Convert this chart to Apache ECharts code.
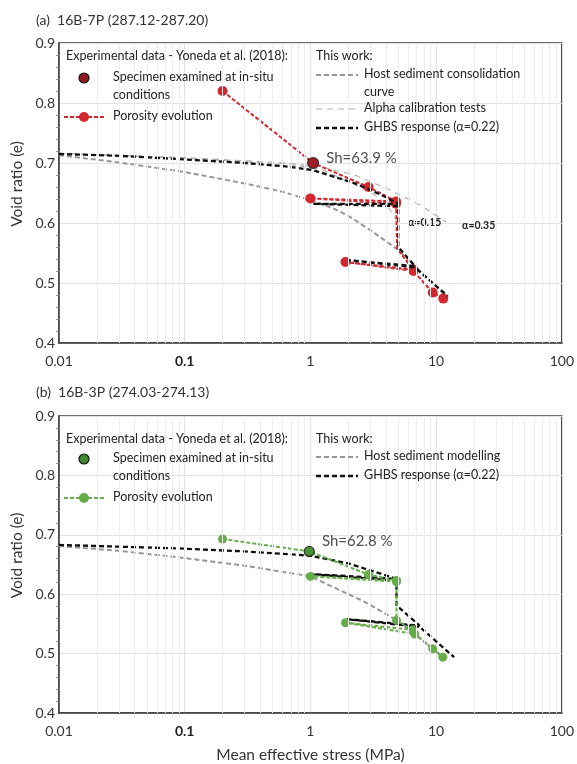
<!DOCTYPE html>
<html><head><meta charset="utf-8">
<script src="https://cdn.jsdelivr.net/npm/echarts@6/dist/echarts.min.js"></script>
<style>html,body{margin:0;padding:0;background:#fff}#c{width:577px;height:764px}</style>
</head><body><div id="c"></div>
<script>
// ---------- data ----------
const xTickLabels = ['0.01', '0.1', '1', '10', '100'];
const yTicks = [0.4, 0.5, 0.6, 0.7, 0.8, 0.9];
const minorX = [0.02,0.03,0.04,0.05,0.06,0.07,0.08,0.09,0.2,0.3,0.4,0.5,0.6,0.7,0.8,0.9,2,3,4,5,6,7,8,9,20,30,40,50,60,70,80,90];

// Panel (a) 16B-7P
const hostA_x = [0.01, 0.03, 0.1, 0.3, 0.6, 1, 1.5, 2, 3, 5, 7, 10, 12.5];
const hostA_e = [0.713, 0.701, 0.685, 0.666, 0.652, 0.638, 0.625, 0.612, 0.588, 0.555, 0.525, 0.495, 0.480];
const alpha015_x = [0.01, 0.1, 0.66, 1.2, 2.2, 3.2, 4.0, 4.8];
const alpha015_e = [0.716, 0.708, 0.698, 0.690, 0.665, 0.648, 0.632, 0.606];
const alpha035_x = [0.01, 0.1, 0.66, 1.2, 2.2, 4.0, 7.3, 12];
const alpha035_e = [0.716, 0.709, 0.700, 0.693, 0.681, 0.658, 0.631, 0.602];
const ghbsA_x = [0.01, 0.03, 0.1, 0.3, 0.66, 1.05, 2.2, 3, 4, 5, 1.05, 5, 5, 6.8, 2.0, 6.8, 12.3];
const ghbsA_e = [0.715, 0.712, 0.706, 0.700, 0.694, 0.688, 0.667, 0.655, 0.643, 0.632, 0.632, 0.628, 0.560, 0.528, 0.538, 0.526, 0.478];
const poroA_x = [0.2, 1.05, 2.9, 4.8, 1.0, 4.8, 4.9, 6.6, 1.9, 6.6, 9.4, 11.4];
const poroA_e = [0.820, 0.700, 0.660, 0.636, 0.641, 0.632, 0.557, 0.522, 0.535, 0.520, 0.484, 0.474];
const poroA_marker = [1, 1, 1, 1, 1, 1, 0, 1, 1, 1, 1, 1];
const specA = [1.05, 0.700];
const specA_label = 'Sh=63.9 %';

// Panel (b) 16B-3P
const hostB_x = [0.01, 0.03, 0.09, 0.3, 1.0, 2.65, 4.7, 6.75, 9.4, 11.3];
const hostB_e = [0.681, 0.673, 0.662, 0.648, 0.630, 0.588, 0.558, 0.533, 0.508, 0.494];
const ghbsB_x = [0.01, 0.03, 0.09, 0.3, 0.98, 2, 3, 4.84, 0.98, 4.84, 4.84, 7.4, 1.95, 7.4, 13.9];
const ghbsB_e = [0.683, 0.680, 0.677, 0.672, 0.665, 0.652, 0.640, 0.626, 0.634, 0.623, 0.581, 0.547, 0.558, 0.545, 0.494];
const poroB_x = [0.2, 0.98, 2.9, 4.84, 1.0, 4.84, 4.84, 6.5, 1.9, 6.75, 9.4, 11.3];
const poroB_e = [0.693, 0.672, 0.633, 0.623, 0.630, 0.621, 0.556, 0.540, 0.552, 0.533, 0.508, 0.494];
const specB = [0.98, 0.672];
const specB_label = 'Sh=62.8 %';

// ---------- helpers ----------
const FONT = 'Lato';
const zip = (xs, es) => xs.map((x, i) => [x, es[i]]);
const RED = '#d3262e', DRED = '#8e1b1f', GREEN = '#66ad4a', DGREEN = '#3f8a2f';
const HOST = '#969696', ALPHA = '#adadad';

const G = [
  {left: 59, width: 508, top: 43, height: 300},
  {left: 59, width: 508, top: 416, height: 300}
];

function xAxis(i, withName) {
  return {
    type: 'log', logBase: 10, min: 0.01, max: 100, gridIndex: i,
    axisLine: {show: true, onZero: false, lineStyle: {color: '#3c3c3c', width: 1.5}},
    axisTick: {show: false},
    axisLabel: {
      margin: 11, color: '#333', fontFamily: FONT, fontSize: 14,
      formatter: v => {
        const k = Math.round(Math.log10(v)) + 2;
        const t = xTickLabels[k];
        return k === 1 ? '{b|' + t + '}' : t;
      },
      rich: {b: {fontWeight: 'bold', fontFamily: FONT, fontSize: 14, color: '#222'}}
    },
    splitLine: {show: true, lineStyle: {color: '#e2e2e2', width: 1}},
    name: withName ? 'Mean effective stress (MPa)' : '',
    nameLocation: 'middle', nameGap: 34,
    nameTextStyle: {fontFamily: FONT, fontSize: 15.5, color: '#333'}
  };
}
function yAxis(i) {
  return {
    type: 'value', min: yTicks[0], max: yTicks[yTicks.length - 1], interval: 0.1, gridIndex: i,
    axisLine: {show: true, onZero: false, lineStyle: {color: '#3c3c3c', width: 1.5}},
    axisTick: {show: false},
    minorTick: {show: true, splitNumber: 5, length: 3, lineStyle: {color: '#888'}},
    axisLabel: {margin: 4, color: '#333', fontFamily: FONT, fontSize: 14, formatter: v => v.toFixed(1)},
    splitLine: {show: true, lineStyle: {color: '#e2e2e2', width: 1}},
    name: 'Void ratio (e)', nameLocation: 'middle', nameGap: 33,
    nameTextStyle: {fontFamily: FONT, fontSize: 15.5, color: '#333', padding: [0, 0, 0, 18]}
  };
}

function minorGrid(i) {
  return {
    type: 'line', xAxisIndex: i, yAxisIndex: i, data: [], silent: true, z: 0,
    markLine: {
      silent: true, symbol: 'none', animation: false, label: {show: false},
      lineStyle: {color: '#ededed', type: 'solid', width: 1},
      data: minorX.map(v => ({xAxis: v}))
    }
  };
}
function dashLine(i, data, color, width, dash, z) {
  return {type: 'line', xAxisIndex: i, yAxisIndex: i, data, showSymbol: false, symbol: 'none',
    lineStyle: {color, width, type: dash}, z: z || 2, animation: false, silent: true};
}

const series = [
  minorGrid(0), minorGrid(1),
  // panel a
  dashLine(0, zip(hostA_x, hostA_e), HOST, 2, [5, 3], 2),
  Object.assign(dashLine(0, zip(alpha015_x, alpha015_e), ALPHA, 1.1, [6, 5], 2), {
    endLabel: {show: true, formatter: 'α=0.15', offset: [4, 3], fontFamily: FONT, fontSize: 10.5, fontWeight: 'bold', color: '#222'}
  }),
  Object.assign(dashLine(0, zip(alpha035_x, alpha035_e), ALPHA, 1.1, [6, 5], 2), {
    endLabel: {show: true, formatter: 'α=0.35', offset: [8, 4], fontFamily: FONT, fontSize: 10.5, fontWeight: 'bold', color: '#222'}
  }),
  {
    type: 'line', xAxisIndex: 0, yAxisIndex: 0, z: 3, animation: false,
    data: poroA_x.map((x, i) => ({value: [x, poroA_e[i]], symbolSize: poroA_marker[i] ? 10 : 0})),
    symbol: 'circle', showAllSymbol: true,
    itemStyle: {color: RED}, lineStyle: {color: RED, width: 2, type: [4, 2]}
  },
  dashLine(0, zip(ghbsA_x, ghbsA_e), '#111', 2.3, [5, 3], 4),
  {
    type: 'scatter', xAxisIndex: 0, yAxisIndex: 0, z: 5, animation: false,
    data: [specA], symbolSize: 11,
    itemStyle: {color: DRED, borderColor: '#111', borderWidth: 1.2},
    label: {show: true, position: 'right', distance: 7, offset: [0, -5], formatter: specA_label,
      fontFamily: FONT, fontSize: 15, color: '#222'}
  },
  // panel b
  dashLine(1, zip(hostB_x, hostB_e), HOST, 2, [5, 3], 2),
  dashLine(1, zip(ghbsB_x, ghbsB_e), '#111', 2.3, [5, 3], 3),
  {
    type: 'line', xAxisIndex: 1, yAxisIndex: 1, z: 4, animation: false,
    data: zip(poroB_x, poroB_e), symbol: 'circle', symbolSize: 9, showAllSymbol: true,
    itemStyle: {color: GREEN}, lineStyle: {color: GREEN, width: 2, type: [4, 2]}
  },
  {
    type: 'scatter', xAxisIndex: 1, yAxisIndex: 1, z: 5, animation: false,
    data: [specB], symbolSize: 10,
    itemStyle: {color: DGREEN, borderColor: '#111', borderWidth: 1.2},
    label: {show: true, position: 'right', distance: 7, offset: [0, -10], formatter: specB_label,
      fontFamily: FONT, fontSize: 15, color: '#222'}
  }
];

// ---------- legend graphics ----------
function txt(x, y, t, size, extra) {
  return {type: 'text', left: x, top: y - size * 0.62, silent: true, z: 20,
    style: Object.assign({text: t, fontFamily: FONT, fontSize: size, fill: '#222'}, extra || {})};
}
function seg(x1, x2, y, stroke, w, dash) {
  return {type: 'line', silent: true, z: 20, shape: {x1, y1: y, x2, y2: y},
    style: {stroke, lineWidth: w, lineDash: dash}};
}
function dot(cx, cy, r, fill, stroke) {
  return {type: 'circle', silent: true, z: 21, shape: {cx, cy, r},
    style: {fill, stroke: stroke || null, lineWidth: stroke ? 1.2 : 0}};
}
const LS = 12.5;
function legendBlock(y0, spec, porColor, specColor, secondRows) {
  const g = [
    txt(66, y0, 'Experimental data - Yoneda et al. (2018):', LS),
    dot(84, spec, 5, specColor, '#111'),
    txt(113, spec, 'Specimen examined at in-situ', LS),
    txt(113, spec + 18, 'conditions', LS),
    seg(64, 104, spec + 39, porColor, 2, [4, 2]),
    dot(84, spec + 39, 5, porColor),
    txt(113, spec + 39, 'Porosity evolution', LS),
    txt(316, y0, 'This work:', LS)
  ];
  secondRows.forEach(r => {
    g.push(seg(316, 358, r.y, r.color, r.w, r.dash));
    r.lines.forEach((t, k) => g.push(txt(364, r.y + k * 18, t, LS)));
  });
  return g;
}
const graphic = [
  txt(36, 22, '(a)  16B-7P (287.12-287.20)', 14, {fill: '#333'}),
  txt(36, 394, '(b)  16B-3P (274.03-274.13)', 14, {fill: '#333'})
].concat(
  legendBlock(57, 78, RED, DRED, [
    {y: 75, color: HOST, w: 2, dash: [5, 3], lines: ['Host sediment consolidation', 'curve']},
    {y: 109, color: ALPHA, w: 1.1, dash: [6, 5], lines: ['Alpha calibration tests']},
    {y: 128, color: '#111', w: 2.3, dash: [5, 3], lines: ['GHBS response (α=0.22)']}
  ]),
  legendBlock(440, 459, GREEN, DGREEN, [
    {y: 457, color: HOST, w: 2, dash: [5, 3], lines: ['Host sediment modelling']},
    {y: 476, color: '#111', w: 2.3, dash: [5, 3], lines: ['GHBS response (α=0.22)']}
  ])
);

const chart = echarts.init(document.getElementById('c'));
chart.setOption({
  animation: false,
  grid: G.map(g => Object.assign({show: true, borderColor: '#3c3c3c', borderWidth: 1.5, backgroundColor: 'transparent'}, g)),
  xAxis: [xAxis(0, false), xAxis(1, true)],
  yAxis: [yAxis(0), yAxis(1)],
  series,
  graphic
});
</script></body></html>
